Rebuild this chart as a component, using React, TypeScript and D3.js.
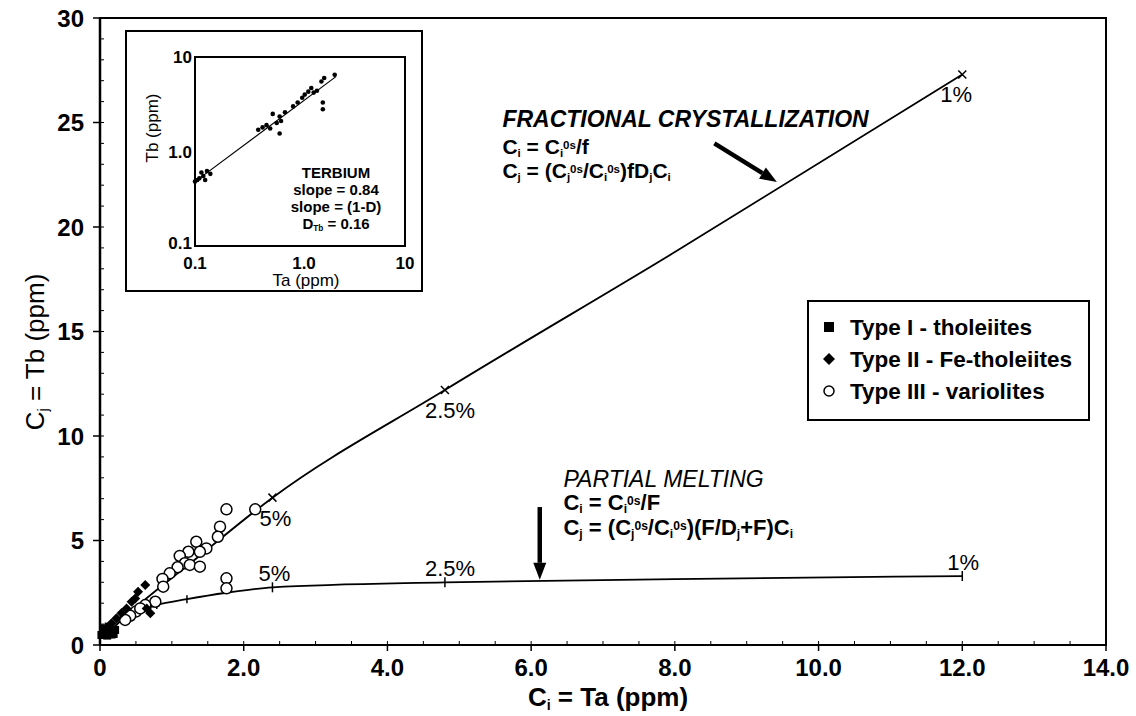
import React from "react";
import * as d3 from "d3";

type Pt = [number, number];

// ---- main plot axes ----
const xTickValues = [0, 2, 4, 6, 8, 10, 12, 14];
const xTickLabels = ["0", "2.0", "4.0", "6.0", "8.0", "10.0", "12.0", "14.0"];
const yTickValues = [0, 5, 10, 15, 20, 25, 30];

// ---- samples (Ta, Tb in ppm) ----
const typeI: Pt[] = [
  [0.02, 0.48], [0.05, 0.8], [0.07, 0.56], [0.12, 0.88], [0.14, 0.64],
  [0.19, 0.53], [0.21, 0.72], [0.1, 0.45], [0.16, 0.5],
];
const typeII: Pt[] = [
  [0.63, 2.87], [0.53, 2.55], [0.49, 2.23], [0.65, 1.75], [0.7, 1.52],
  [0.44, 2.07], [0.37, 1.75], [0.3, 1.53], [0.23, 1.28], [0.16, 1.04],
];
const typeIII: Pt[] = [
  [1.76, 6.49], [2.16, 6.49], [1.67, 5.66], [1.64, 5.18], [1.34, 4.94],
  [1.48, 4.62], [1.39, 4.46], [1.23, 4.46], [1.11, 4.26], [1.18, 3.91],
  [1.08, 3.72], [1.25, 3.83], [1.39, 3.75], [0.97, 3.43], [0.87, 3.16],
  [0.88, 2.79], [1.76, 3.19], [1.76, 2.71], [0.77, 2.07], [0.63, 1.91],
  [0.5, 1.6], [0.42, 1.4], [0.35, 1.2], [0.56, 1.75],
];

// ---- model curves ----
const fcCurve: Pt[] = [
  [0.12, 0.57], [0.3, 1.2], [0.6, 2.1], [1.2, 3.75], [2.4, 7.05],
  [4.8, 12.2], [8, 18.8], [12, 27.3],
];
const pmCurve: Pt[] = [
  [0.12, 0.57], [0.3, 1.2], [0.5, 1.55], [0.79, 1.91], [1.21, 2.19],
  [1.76, 2.5], [2.4, 2.76], [4.8, 3.0], [8, 3.15], [12, 3.3],
];
const fcSteps: Pt[] = [[2.4, 7.05], [4.8, 12.2], [12, 27.3]];
const fcStepLabels = ["5%", "2.5%", "1%"];
const pmSteps: Pt[] = [[2.4, 2.76], [4.8, 3.0], [12, 3.3]];
const pmStepLabels = ["5%", "2.5%", "1%"];
const pmMinorSteps: Pt[] = [[0.79, 1.91], [1.21, 2.19]];

// ---- inset (log-log) ----
const insetTicks = [0.1, 1, 10];
const insetTickLabels = ["0.1", "1.0", "10"];
const insetPoints: Pt[] = [
  [0.1, 0.48], [0.11, 0.52], [0.12, 0.55], [0.115, 0.6], [0.13, 0.62],
  [0.125, 0.5], [0.14, 0.58], [0.105, 0.5],
  [0.4, 1.7], [0.44, 1.8], [0.48, 1.9], [0.52, 1.75], [0.55, 2.5],
  [0.6, 2.0], [0.64, 2.35], [0.66, 2.1], [0.64, 1.55], [0.72, 2.6],
  [0.86, 3.0], [0.95, 3.3], [1.05, 3.7], [1.11, 4.0], [1.2, 4.3],
  [1.28, 4.7], [1.35, 4.2], [1.45, 4.4], [1.6, 5.5], [1.7, 6.0],
  [2.14, 6.5], [1.65, 3.3], [1.65, 2.8],
];
const insetFit: Pt[] = [[0.1, 0.48], [2.2, 6.2]];
const insetNotes = ["TERBIUM", "slope = 0.84", "slope = (1-D)"];

const legendItems = ["Type I - tholeiites", "Type II - Fe-tholeiites", "Type III - variolites"];

const FONT = "'Liberation Sans', Arial, sans-serif";

type Seg = { t: string; s?: "sub" | "sup" };
function Rich(props: {
  x: number; y: number; segs: Seg[]; size: number;
  weight?: string; italic?: boolean; anchor?: string; rotate?: number;
}) {
  const { x, y, segs, size, weight, italic, anchor, rotate } = props;
  return (
    <text
      x={x}
      y={y}
      fontSize={size}
      fontFamily={FONT}
      fontWeight={weight || "normal"}
      fontStyle={italic ? "italic" : "normal"}
      textAnchor={anchor || "start"}
      transform={rotate ? `rotate(${rotate},${x},${y})` : undefined}
    >
      {segs.map((s, i) => (
        <tspan
          key={i}
          fontSize={s.s ? size * 0.55 : size}
          baselineShift={s.s === "sub" ? "-25%" : s.s === "sup" ? "45%" : undefined}
        >
          {s.t}
        </tspan>
      ))}
    </text>
  );
}

function Arrow({ x1, y1, x2, y2 }: { x1: number; y1: number; x2: number; y2: number }) {
  const a = Math.atan2(y2 - y1, x2 - x1);
  const L = 17, w = 6.5;
  const bx = x2 - L * Math.cos(a), by = y2 - L * Math.sin(a);
  const px = -Math.sin(a), py = Math.cos(a);
  return (
    <g>
      <line x1={x1} y1={y1} x2={bx} y2={by} stroke="#000" strokeWidth={4.5} />
      <polygon
        points={`${x2},${y2} ${bx + px * w},${by + py * w} ${bx - px * w},${by - py * w}`}
        fill="#000"
      />
    </g>
  );
}

export default function App() {
  const W = 1136, H = 716;
  const x = d3.scaleLinear().domain([0, 14]).range([100, 1106]);
  const y = d3.scaleLinear().domain([0, 30]).range([645, 18]);

  const curve = d3
    .line<Pt>()
    .x((d) => x(d[0]))
    .y((d) => y(d[1]))
    .curve(d3.curveMonotoneX);

  const xMinor = d3.range(0, 14.01, 0.5);
  const yMinor = d3.range(0, 30.01, 1);

  // inset scales
  const ix = d3.scaleLog().domain([0.1, 10]).range([195, 405]);
  const iy = d3.scaleLog().domain([0.1, 10]).range([246, 57]);
  const fitLine = d3.line<Pt>().x((d) => ix(d[0])).y((d) => iy(d[1]));

  const diamond = (cx: number, cy: number, r: number) =>
    `M${cx},${cy - r}L${cx + r},${cy}L${cx},${cy + r}L${cx - r},${cy}Z`;

  const fcX = x(5.6);
  const pmX = x(6.45);

  return (
    <>
      <style>{"body{margin:0;background:#fff}"}</style>
      <svg width={W} height={H} style={{ display: "block", background: "#fff" }}>
        {/* frame */}
        <rect x={100} y={18} width={1006} height={627} fill="none" stroke="#000" strokeWidth={2} />
        <line x1={100} x2={100} y1={18} y2={645} stroke="#000" strokeWidth={2.5} />

        {/* y ticks */}
        {yMinor.map((v) => (
          <line key={"ym" + v} x1={x(0)} x2={x(0) + 4} y1={y(v)} y2={y(v)} stroke="#000" strokeWidth={1} />
        ))}
        {yTickValues.map((v) => (
          <g key={"y" + v}>
            <line x1={x(0) - 7} x2={x(0)} y1={y(v)} y2={y(v)} stroke="#000" strokeWidth={1.5} />
            <text x={84} y={y(v) + 8.5} textAnchor="end" fontSize={24} fontWeight="bold" fontFamily={FONT}>
              {v}
            </text>
          </g>
        ))}
        {/* x ticks */}
        {xMinor.map((v) => (
          <line key={"xm" + v} x1={x(v)} x2={x(v)} y1={y(0)} y2={y(0) - 4} stroke="#000" strokeWidth={1} />
        ))}
        {xTickValues.map((v, i) => (
          <g key={"x" + v}>
            <line x1={x(v)} x2={x(v)} y1={y(0)} y2={y(0) + 6} stroke="#000" strokeWidth={1.5} />
            <text x={x(v)} y={676} textAnchor="middle" fontSize={24} fontWeight="bold" fontFamily={FONT}>
              {xTickLabels[i]}
            </text>
          </g>
        ))}

        {/* axis titles */}
        <Rich
          x={608}
          y={706}
          size={26}
          weight="bold"
          anchor="middle"
          segs={[{ t: "C" }, { t: "i", s: "sub" }, { t: " = Ta (ppm)" }]}
        />
        <Rich
          x={44}
          y={352}
          size={26}
          anchor="middle"
          rotate={-90}
          segs={[{ t: "C" }, { t: "j", s: "sub" }, { t: " = Tb (ppm)" }]}
        />

        {/* model curves */}
        <path d={curve(fcCurve) || ""} fill="none" stroke="#000" strokeWidth={1.8} />
        <path d={curve(pmCurve) || ""} fill="none" stroke="#000" strokeWidth={1.8} />
        {fcSteps.map((d, i) => (
          <g key={"fc" + i}>
            <path
              d={`M${x(d[0]) - 4},${y(d[1]) - 4}L${x(d[0]) + 4},${y(d[1]) + 4}M${x(d[0]) - 4},${y(d[1]) + 4}L${x(d[0]) + 4},${y(d[1]) - 4}`}
              stroke="#000"
              strokeWidth={1.5}
            />
            <text x={x(d[0]) + [-13, -20, -22][i]} y={y(d[1]) + 28} fontSize={22} fontFamily={FONT}>
              {fcStepLabels[i]}
            </text>
          </g>
        ))}
        {pmSteps.map((d, i) => (
          <g key={"pm" + i}>
            <line x1={x(d[0])} x2={x(d[0])} y1={y(d[1]) - 5} y2={y(d[1]) + 5} stroke="#000" strokeWidth={1.5} />
            <text x={x(d[0]) + [-14, -20, -15][i]} y={y(d[1]) - 6} fontSize={22} fontFamily={FONT}>
              {pmStepLabels[i]}
            </text>
          </g>
        ))}
        {pmMinorSteps.map((d, i) => (
          <line key={"pmm" + i} x1={x(d[0])} x2={x(d[0])} y1={y(d[1]) - 4} y2={y(d[1]) + 4} stroke="#000" strokeWidth={1.5} />
        ))}

        {/* samples */}
        {typeIII.map((d, i) => (
          <circle key={"c" + i} cx={x(d[0])} cy={y(d[1])} r={5.5} fill="#fff" stroke="#000" strokeWidth={1.5} />
        ))}
        {typeII.map((d, i) => (
          <path key={"d" + i} d={diamond(x(d[0]), y(d[1]), 5)} fill="#000" />
        ))}
        {typeI.map((d, i) => (
          <rect key={"s" + i} x={x(d[0]) - 4} y={y(d[1]) - 4} width={8} height={8} fill="#000" />
        ))}

        {/* fractional crystallization annotation */}
        <text x={fcX} y={y(24.8)} fontSize={23} fontWeight="bold" fontStyle="italic" fontFamily={FONT}>
          FRACTIONAL CRYSTALLIZATION
        </text>
        <Rich
          x={fcX}
          y={y(23.5)}
          size={21}
          weight="bold"
          segs={[{ t: "C" }, { t: "i", s: "sub" }, { t: " = C" }, { t: "i", s: "sub" }, { t: "0s", s: "sup" }, { t: "/f" }]}
        />
        <Rich
          x={fcX}
          y={y(22.35)}
          size={21}
          weight="bold"
          segs={[
            { t: "C" }, { t: "j", s: "sub" }, { t: " = (C" }, { t: "j", s: "sub" }, { t: "0s", s: "sup" },
            { t: "/C" }, { t: "i", s: "sub" }, { t: "0s", s: "sup" }, { t: ")fD" }, { t: "j", s: "sub" },
            { t: "C" }, { t: "i", s: "sub" },
          ]}
        />
        <Arrow x1={x(8.55)} y1={y(24.0)} x2={x(9.42)} y2={y(22.15)} />

        {/* partial melting annotation */}
        <text x={pmX} y={y(7.55)} fontSize={23} fontStyle="italic" fontFamily={FONT}>
          PARTIAL MELTING
        </text>
        <Rich
          x={pmX}
          y={y(6.45)}
          size={22}
          weight="bold"
          segs={[{ t: "C" }, { t: "i", s: "sub" }, { t: " = C" }, { t: "i", s: "sub" }, { t: "0s", s: "sup" }, { t: "/F" }]}
        />
        <Rich
          x={pmX}
          y={y(5.25)}
          size={22}
          weight="bold"
          segs={[
            { t: "C" }, { t: "j", s: "sub" }, { t: " = (C" }, { t: "j", s: "sub" }, { t: "0s", s: "sup" },
            { t: "/C" }, { t: "i", s: "sub" }, { t: "0s", s: "sup" }, { t: ")(F/D" }, { t: "j", s: "sub" },
            { t: "+F)C" }, { t: "i", s: "sub" },
          ]}
        />
        <Arrow x1={x(6.12)} y1={y(6.6)} x2={x(6.12)} y2={y(3.12)} />

        {/* legend */}
        <rect x={808} y={301} width={281} height={119} fill="#fff" stroke="#000" strokeWidth={2} />
        {legendItems.map((t, i) => {
          const cy = 327 + i * 32;
          return (
            <g key={"lg" + i}>
              {i === 0 && <rect x={824} y={cy - 5} width={10} height={10} fill="#000" />}
              {i === 1 && <path d={diamond(829, cy, 6)} fill="#000" />}
              {i === 2 && <circle cx={829} cy={cy} r={5} fill="none" stroke="#000" strokeWidth={1.5} />}
              <text x={850} y={cy + 8} fontSize={22.5} fontWeight="bold" fontFamily={FONT}>
                {t}
              </text>
            </g>
          );
        })}

        {/* inset */}
        <rect x={126} y={31} width={296} height={260} fill="#fff" stroke="#000" strokeWidth={2} />
        <rect x={195} y={57} width={210} height={189} fill="none" stroke="#000" strokeWidth={2} />
        {insetTicks.map((v, i) => (
          <g key={"it" + i}>
            <text x={ix(v) + (i === 1 ? 4 : 0)} y={269} textAnchor="middle" fontSize={17} fontWeight="bold" fontFamily={FONT}>
              {insetTickLabels[i]}
            </text>
            <text x={192} y={iy(v) + (i === 0 ? 3 : 6)} textAnchor="end" fontSize={17} fontWeight="bold" fontFamily={FONT}>
              {insetTickLabels[i]}
            </text>
          </g>
        ))}
        <text x={306} y={286} textAnchor="middle" fontSize={17} fontFamily={FONT}>
          Ta (ppm)
        </text>
        <text x={158} y={128} textAnchor="middle" fontSize={17} fontFamily={FONT} transform="rotate(-90,158,128)">
          Tb (ppm)
        </text>
        <path d={fitLine(insetFit) || ""} stroke="#000" strokeWidth={1.2} fill="none" />
        {insetPoints.map((d, i) => (
          <circle key={"ip" + i} cx={ix(d[0])} cy={iy(d[1])} r={2.3} fill="#000" />
        ))}
        {insetNotes.map((t, i) => (
          <text key={"in" + i} x={336} y={178 + i * 17} textAnchor="middle" fontSize={15} fontWeight="bold" fontFamily={FONT}>
            {t}
          </text>
        ))}
        <Rich
          x={336}
          y={178 + 3 * 17}
          size={15}
          weight="bold"
          anchor="middle"
          segs={[{ t: "D" }, { t: "Tb", s: "sub" }, { t: " = 0.16" }]}
        />
      </svg>
    </>
  );
}
